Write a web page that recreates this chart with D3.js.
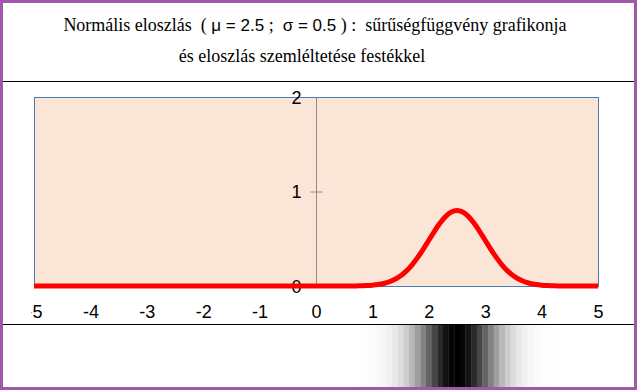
<!DOCTYPE html>
<html>
<head>
<meta charset="utf-8">
<script src="https://cdn.jsdelivr.net/npm/d3@7"></script>
<style>
  body { margin: 0; background: #fff; }
  svg text { white-space: pre; }
  .serif { font-family: "Liberation Serif", "Times New Roman", "DejaVu Serif", serif; }
  .sans { font-family: "Liberation Sans", Arial, sans-serif; }
</style>
</head>
<body>
<svg id="chart" width="637" height="390"></svg>
<script>
// x values of the curve and the density
var curveX = [-5, 0.5, 0.6, 0.7, 0.8, 0.9, 1.0, 1.1, 1.2, 1.3, 1.4, 1.5, 1.6, 1.7, 1.8, 1.9,
	2.0, 2.1, 2.2, 2.3, 2.4, 2.5, 2.6, 2.7, 2.8, 2.9, 3.0, 3.1, 3.2, 3.3, 3.4, 3.5,
	3.6, 3.7, 3.8, 3.9, 4.0, 4.1, 4.2, 4.3, 4.4, 4.5, 5];
var curveY = [0, 0.000, 0.001, 0.001, 0.003, 0.005, 0.009, 0.016, 0.027, 0.045, 0.071, 0.108,
	0.158, 0.222, 0.300, 0.388, 0.484, 0.579, 0.666, 0.737, 0.782, 0.798, 0.782, 0.737,
	0.666, 0.579, 0.484, 0.388, 0.300, 0.222, 0.158, 0.108, 0.071, 0.045, 0.027, 0.016,
	0.009, 0.005, 0.003, 0.001, 0.001, 0.000, 0];
var xTicks = [-5, -4, -3, -2, -1, 0, 1, 2, 3, 4, 5];
var yTicks = [0, 1, 2];
var titleLine1 = [
	{t: "Normális eloszlás  ( ", serif: true},
	{t: "μ = 2.5", serif: false},
	{t: " ;  ", serif: true},
	{t: "σ = 0.5", serif: false},
	{t: " ) :  sűrűségfüggvény grafikonja", serif: true}
];
var titleLine2 = "és eloszlás szemléltetése festékkel";

var W = 637, H = 390;
var svg = d3.select("#chart");

var x = d3.scaleLinear().domain([-5, 5]).range([34, 598]);
var y = d3.scaleLinear().domain([0, 2]).range([286, 97]);

// purple frame
svg.append("rect")
	.attr("x", 1.5).attr("y", 1.5)
	.attr("width", W - 3).attr("height", H - 3)
	.attr("fill", "#fff")
	.attr("stroke", "#a258a8")
	.attr("stroke-width", 3);

// title
var t1 = svg.append("text")
	.attr("x", 315).attr("y", 31)
	.attr("text-anchor", "middle")
	.attr("fill", "#000");
t1.selectAll("tspan")
	.data(titleLine1)
	.enter().append("tspan")
	.attr("class", function(d) { return d.serif ? "serif" : "sans"; })
	.style("font-size", function(d) { return d.serif ? "18px" : "17px"; })
	.text(function(d) { return d.t; });

svg.append("text")
	.attr("class", "serif")
	.attr("x", 302).attr("y", 62)
	.attr("text-anchor", "middle")
	.style("font-size", "18px")
	.text(titleLine2);

svg.append("line")
	.attr("x1", 3).attr("x2", W - 3)
	.attr("y1", 81.5).attr("y2", 81.5)
	.attr("stroke", "#000");

// plot area
svg.append("rect")
	.attr("x", x(-5) + 0.5).attr("y", y(2) + 0.5)
	.attr("width", x(5) - x(-5)).attr("height", y(0) - y(2))
	.attr("fill", "#fbe5d6")
	.attr("stroke", "#4a7ab5")
	.attr("stroke-width", 1);

// y axis through x = 0
var yAxis = svg.append("g")
	.attr("transform", "translate(" + (x(0) + 0.5) + ",0)")
	.call(d3.axisLeft(y).tickValues(yTicks).tickSize(6).tickFormat(function(d) { return String(d); }));
yAxis.select(".domain").attr("stroke", "#8c8c8c").attr("d", "M0," + y(2) + "V" + y(0));
yAxis.selectAll(".tick line").attr("stroke", "#8c8c8c").attr("x1", 6).attr("x2", -6)
	.attr("opacity", function(d) { return d === 1 ? 1 : 0; });
yAxis.selectAll(".tick text")
	.attr("class", "sans")
	.attr("x", -15)
	.attr("dy", "0.35em")
	.style("font-size", "18px")
	.attr("fill", "#000");

// density curve
var line = d3.line()
	.x(function(d, i) { return x(curveX[i]); })
	.y(function(d) { return y(d); })
	.curve(d3.curveMonotoneX);
svg.append("path")
	.datum(curveY)
	.attr("d", line)
	.attr("fill", "none")
	.attr("stroke", "#ff0000")
	.attr("stroke-width", 5)
	.attr("stroke-linejoin", "round");

// x tick labels (the left one is cut by the frame of the picture)
svg.append("clipPath").attr("id", "xclip")
	.append("rect").attr("x", 31.5).attr("y", 290).attr("width", 600).attr("height", 34);
var xAxis = svg.append("g")
	.attr("clip-path", "url(#xclip)")
	.append("g")
	.attr("transform", "translate(0,305)")
	.call(d3.axisBottom(x).tickValues(xTicks).tickSize(0).tickPadding(0).tickFormat(function(d) { return String(d); }));
xAxis.select(".domain").remove();
xAxis.selectAll(".tick text")
	.attr("class", "sans")
	.style("font-size", "18px")
	.attr("fill", "#000");

svg.append("line")
	.attr("x1", 3).attr("x2", W - 3)
	.attr("y1", 324.5).attr("y2", 324.5)
	.attr("stroke", "#000");

// paint stripes: darkness follows the density
var ymax = d3.max(curveY);
var shade = d3.scaleLinear().domain([0, ymax]).range(["#ffffff", "#000000"]);
var stripes = curveX.slice(1, -1);
svg.append("g").selectAll("rect")
	.data(stripes)
	.enter().append("rect")
	.attr("x", function(d) { return x(d - 0.05); })
	.attr("y", 325)
	.attr("width", function(d) { return x(d + 0.05) - x(d - 0.05) + 0.3; })
	.attr("height", H - 3 - 325)
	.attr("fill", function(d, i) { return shade(curveY[i + 1]); });
</script>
</body>
</html>
